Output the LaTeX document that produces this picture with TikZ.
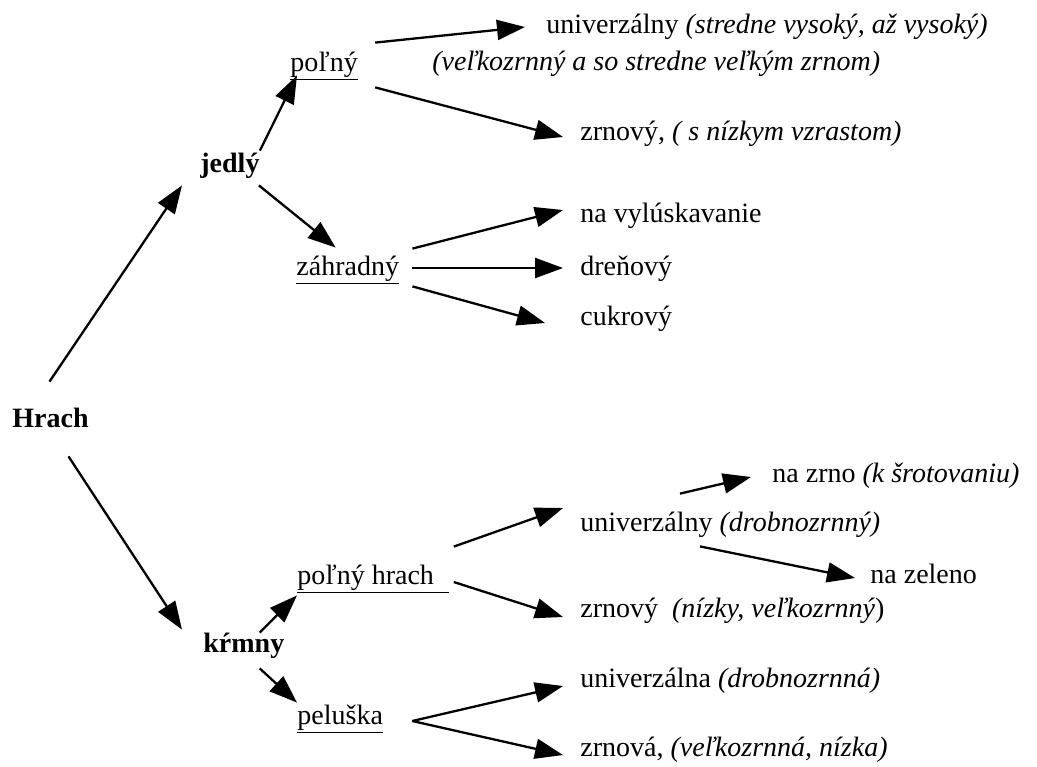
\documentclass[tikz,border=0pt]{standalone}
\usepackage{fontspec}
\setmainfont{Liberation Serif}
\usetikzlibrary{arrows.meta}
\tikzset{
  lbl/.style={anchor=west, inner sep=0pt, font=\fontsize{14pt}{17pt}\selectfont,
    text height=10.5pt, text depth=3.5pt},
  arr/.style={line width=1.15pt, -{Triangle[length=14pt,width=10pt]}}
}
\begin{document}
\begin{tikzpicture}[x=0.5pt, y=-0.5pt]
\useasboundingbox (0,0) rectangle (1037,766);
% left part
\node[lbl] (hrach) at (12,420) {\textbf{Hrach}};
\node[lbl] (jedly) at (200,165) {\textbf{jedlý}};
\node[lbl] (krmny) at (203,645) {\textbf{kŕmny}};
\node[lbl] (polny) at (290,64) {\underline{poľný}};
\node[lbl] (zahradny) at (296,268) {\underline{záhradný}};
\node[lbl] (polnyhrach) at (297,577) {\underline{poľný hrach\hspace{.55em}}};
\node[lbl] (peluska) at (297,717) {\underline{peluška}};
% right part
\node[lbl] (univA) at (546,26) {univerzálny \textit{(stredne vysoký, až vysoký)}};
\node[lbl] (velko) at (432,63) {\textit{(veľkozrnný a so stredne veľkým zrnom)}};
\node[lbl] (zrnA) at (580,133) {zrnový, \textit{( s nízkym vzrastom)}};
\node[lbl] (vylusk) at (580,215) {na vylúskavanie};
\node[lbl] (drenovy) at (580,268) {dreňový};
\node[lbl] (cukrovy) at (580,318) {cukrový};
\node[lbl] (nazrno) at (772,475) {na zrno \textit{(k šrotovaniu)}};
\node[lbl] (univB) at (580,524) {univerzálny \textit{(drobnozrnný)}};
\node[lbl] (zeleno) at (870,576) {na zeleno};
\node[lbl] (zrnB) at (580,610) {zrnový\ \ \textit{(nízky, veľkozrnný})};
\node[lbl] (univC) at (580,680) {univerzálna \textit{(drobnozrnná)}};
\node[lbl] (zrnC) at (580,749) {zrnová, \textit{(veľkozrnná, nízka)}};

\draw[arr] ([shift={(-1,-24)}]hrach.north) -- ([shift={(-18,6)}]jedly.south west);
\draw[arr] (jedly.north east) -- ([shift={(7,-3)}]polny.south west);
\draw[arr] ([shift={(-1,6)}]jedly.south east) -- ([shift={(-12,-6)}]zahradny.north);
\draw[arr] ([shift={(17,-7)}]polny.north east) -- ([shift={(-21,1)}]univA.west);
\draw[arr] ([shift={(17,9)}]polny.south east) -- ([shift={(-17,4)}]zrnA.west);
\draw[arr] ([shift={(13,-5)}]zahradny.north east) -- ([shift={(-17,-5)}]vylusk.west);
\draw[arr] ([shift={(13,0)}]zahradny.east) -- ([shift={(-17,0)}]drenovy.west);
\draw[arr] ([shift={(13,4)}]zahradny.south east) -- ([shift={(-35,5)}]cukrovy.west);
\draw[arr] ([shift={(18,22)}]hrach.south) -- ([shift={(-21,-1)}]krmny.north west);
\draw[arr] ([shift={(-25,2)}]krmny.north east) -- ([shift={(0,4)}]polnyhrach.south west);
\draw[arr] ([shift={(-25,9)}]krmny.south east) -- (peluska.north west);
\draw[arr] ([shift={(4,-16)}]polnyhrach.north east) -- ([shift={(-17,-16)}]univB.west);
\draw[arr] ([shift={(4,5)}]polnyhrach.east) -- ([shift={(-17,7)}]zrnB.west);
\draw[arr] ([shift={(100,-16)}]univB.north west) -- ([shift={(-21,2)}]nazrno.west);
\draw[arr] ([shift={(120,8)}]univB.south west) -- ([shift={(-15,2)}]zeleno.west);
\draw[arr] ([shift={(29,4)}]peluska.east) -- ([shift={(-17,6)}]univC.west);
\draw[arr] ([shift={(29,4)}]peluska.east) -- ([shift={(-17,6)}]zrnC.west);
\end{tikzpicture}
\end{document}
